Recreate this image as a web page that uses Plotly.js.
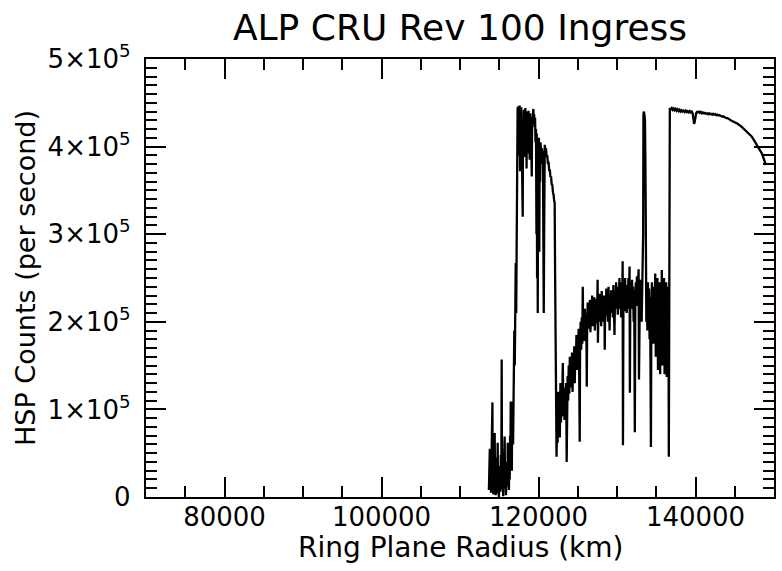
<!DOCTYPE html>
<html>
<head>
<meta charset="utf-8">
<script src="https://cdn.plot.ly/plotly-3.0.1.min.js"></script>
<style>html,body{margin:0;padding:0;background:#fff;}#chart{width:782px;height:571px;}</style>
</head>
<body>
<div id="chart"></div>
<script>
// Ring plane radius (km) and HSP counts (thousands per second)
const bRingX = [113680,113720,113760,113800,113850,113900,113950,114000,114050,114100,114130,114160,114200,114250,114300,114350,114400,114420,114460,114500,114550,114600,114650,114700,114750,114800,114850,114900,114950,115000,115050,115100,115150,115200,115260,115310,115350,115400,115450,115500,115550,115600,115650,115690,115740,115800,115850,115900,115950,116000,116050,116080,116130,116180,116230,116280,116330,116380,116420,116460,116500,116550,116600,116650,116710,116760,116810,116860,116920,116980,117040,117100,117160,117220,117280,117340];
const bRingY = [8,42,15,55,22,48,5,38,12,60,108,20,45,3,35,10,52,73,18,40,2,30,8,45,15,62,4,28,0,20,3,35,6,48,12,157,25,9,42,1,30,7,38,69,10,33,2,26,5,40,12,62,18,47,8,55,20,70,35,109,40,85,30,95,109,60,140,90,190,150,240,267,210,330,300,445];

const cassiniX = [117400,117440,117480,117520,117560,117600,117650,117700,117750,117800,117850,117900,117950,117990,118030,118080,118130,118180,118230,118280,118330,118380,118430,118480,118530,118580,118630,118680,118730,118780,118830,118880,118930,118980,119040,119100,119140,119190,119250,119300,119350,119400,119450,119500,119560,119620,119680,119740,119780,119820,119860,119905,119950,120000,120050,120100,120150,120200,120250,120300,120350,120400,120450,120500,120560,120620,120670,120720,120800,120880,120960,121040,121120,121200,121280,121360,121440,121520,121600,121680,121760,121840,121920,122000,122060,122120,122180,122240];
const cassiniY = [425,446,390,443,410,447,372,441,418,445,395,438,360,320,430,405,442,388,436,412,444,395,430,375,440,418,437,392,441,420,434,385,438,410,432,395,366,428,440,432,443,428,437,422,433,405,420,300,415,250,400,210,395,330,410,280,398,360,405,388,402,385,398,380,395,300,210,300,402,395,398,388,390,380,383,372,374,365,366,357,356,348,345,338,336,250,120,60];

const aRingX = [122300,122370,122440,122510,122580,122650,122720,122790,122860,122930,123000,123070,123100,123170,123240,
123310,123380,123450,123520,123590,123640,123710,123780,123850,123920,123990,124060,124130,124200,124270,
124340,124410,124480,124550,124620,124690,124760,124830,124900,124970,125040,125110,125180,125250,125300,
125370,125440,125510,125580,125640,125700,125770,125840,125910,125980,126050,126120,126150,126200,126270,
126340,126410,126480,126550,126620,126690,126760,126830,126900,126970,127040,127110,127180,127250,
127320,127390,127460,127530,127570,127640,127710,127780,127850,127920,127990,128060,128130,128200,128270,
128340,128410,128440,128500,128570,128640,128710,128780,128850,128920,128990,129060,129120,129190,129260,
129330,129400,129470,129540,129610,129680,129750,129820,129890,129960,130030,130100,130170,130240,
130310,130380,130450,130520,130590,130660,130720,130760,130820,130890,130960,131030,131100,131170,131240,
131310,131380,131450,131520,131600,131640,131700,131770,131840,131910,131980,132050,132120,132190,132270,
132330,132400,132470,132540,132610,132680,132750,132800,132860,132930,133000,133070,133140,133210,133270,
133330,133370,133430,133500,133560,133620,133680,133740,
133800,133870,133940,134010,134080,134150,134220,134280,134320,134380,134450,134520,134590,
134660,134730,134800,134870,134940,135010,135080,135150,135220,135290,135360,135430,135500,135570,135640,135710,135780,135850,135920,135990,136060,136130,136200,136270,136340,136410,136480,136550,136600,136680];
const aRingY = [46,95,62,120,75,108,68,130,85,118,92,140,153,98,125,
88,112,95,130,40,105,138,110,150,118,160,125,148,132,165,
120,158,140,172,130,168,150,185,145,178,160,192,150,63,180,
200,168,205,175,240,185,210,178,215,190,208,170,126,198,222,
192,216,200,225,188,220,205,230,195,218,200,228,190,215,
202,226,198,248,176,214,200,232,205,220,195,235,208,225,200,
230,210,168,228,206,238,212,226,200,240,215,190,232,210,236,
212,230,205,242,218,185,235,215,245,220,238,208,240,222,
250,215,238,205,245,222,269,59,225,240,212,250,220,242,210,
238,215,250,225,263,119,230,245,215,248,222,240,200,235,74,
228,245,218,252,220,240,260,134,230,248,215,242,200,238,225,
300,437,440,436,430,380,250,200,
235,190,245,205,238,180,228,120,57,215,245,200,232,
175,240,195,255,160,230,185,250,145,225,170,245,140,220,180,259,150,238,165,250,140,235,175,245,137,230,160,240,46,200];

const outerX = [136730,136850,136980,137100,137230,137350,137480,137600,137730,137860,137980,138110,138240,138370,138500,138620,138750,138880,139000,139130,139260,139390,139520,139640,139740,139820,139900,139980,140080,140200,140300,140430,140560,140690,140820,140950,141080,141210,141340,141470,141600,141730,141860,141990,142120,142250,142380,142510,142640,142770,142900,143030,143160,143290,143420,143550,143680,143810,143940,144070,144200,144330,144460,144590,144720,144850,144980,145110,145240,145370,145500,145630,145760,145890,146020,146150,146280,146410,146540,146670,146800,146930,147060,147190,147320,147450,147560,147680,147800,147920,148040,148150,148260,148370,148480,148590,148700,148800,148890,148970];
const outerY = [444,442.5,444,442,443.5,441.5,443,441,442.5,440.5,442,440,441.5,440,441,439.5,441,439.5,440.5,439,440.5,439,440,438,432,426,428,434,438,439.5,439,440,438.5,439.5,438,439,438,438.5,437.5,438,437,438,437,437.5,436.5,437.5,436.5,437,436,436.5,435.5,436,435,435,434,434.5,433.5,433.5,432.5,432.5,431.5,431,430,429.5,429,428.5,427.5,427.5,426.5,426,425,424.5,423.5,422.5,421.5,420.5,419.5,418.5,417.5,416.5,415,414,412.5,411,409.5,407.5,406,404,402,400.5,399,397.5,395.5,393.5,391.5,389,386.5,384,381.5,379];

const xTickVals = [80000, 100000, 120000, 140000];
const xTickText = ['80000', '100000', '120000', '140000'];
const yTickVals = [0, 100, 200, 300, 400, 500];
const yTickText = ['0', '1×10<sup>5</sup>', '2×10<sup>5</sup>', '3×10<sup>5</sup>', '4×10<sup>5</sup>', '5×10<sup>5</sup>'];

const radius = [].concat(bRingX, cassiniX, aRingX, outerX);
const counts = [].concat(bRingY, cassiniY, aRingY, outerY);

const FONT = 'DejaVu Sans, sans-serif';

const trace = {
  x: radius, y: counts, type: 'scatter', mode: 'lines',
  line: {color: '#000000', width: 2.3},
  hoverinfo: 'skip', showlegend: false
};

const axisCommon = {
  showline: true, linecolor: '#000', linewidth: 2.2, mirror: 'allticks',
  ticks: 'inside', ticklen: 20, tickwidth: 2, tickcolor: '#000',
  showgrid: false, zeroline: false,
  tickfont: {family: FONT, size: 26, color: '#000'}
};

const layout = {
  width: 782, height: 571,
  margin: {l: 146, r: 8, t: 59, b: 74, pad: 0},
  paper_bgcolor: '#fff', plot_bgcolor: '#fff',
  font: {family: FONT, color: '#000'},
  title: {text: 'ALP CRU Rev 100 Ingress', font: {family: FONT, size: 36, color: '#000'},
          x: 0.5, xref: 'paper', xanchor: 'center', y: 0.952, yref: 'container', yanchor: 'middle'},
  xaxis: Object.assign({}, axisCommon, {
    range: [70000, 150000], tickmode: 'array', tickvals: xTickVals, ticktext: xTickText,
    ticklabelstandoff: -4,
    minor: {dtick: 5000, ticks: 'inside', ticklen: 11, tickwidth: 2, tickcolor: '#000'}
  }),
  yaxis: Object.assign({}, axisCommon, {
    range: [0, 500], tickmode: 'array', tickvals: yTickVals, ticktext: yTickText,
    minor: {dtick: 10, ticks: 'inside', ticklen: 11, tickwidth: 2, tickcolor: '#000'},
    ticklabelstandoff: 8,
    title: {text: 'HSP Counts (per second)', font: {family: FONT, size: 27, color: '#000'}, standoff: 4}
  }),
  annotations: [{
    text: 'Ring Plane Radius (km)', xref: 'paper', yref: 'paper', x: 0.5, y: -0.115,
    xanchor: 'center', yanchor: 'middle', showarrow: false,
    font: {family: FONT, size: 28, color: '#000'}
  }]
};

Plotly.newPlot('chart', [trace], layout, {staticPlot: true, displayModeBar: false});
</script>
</body>
</html>
